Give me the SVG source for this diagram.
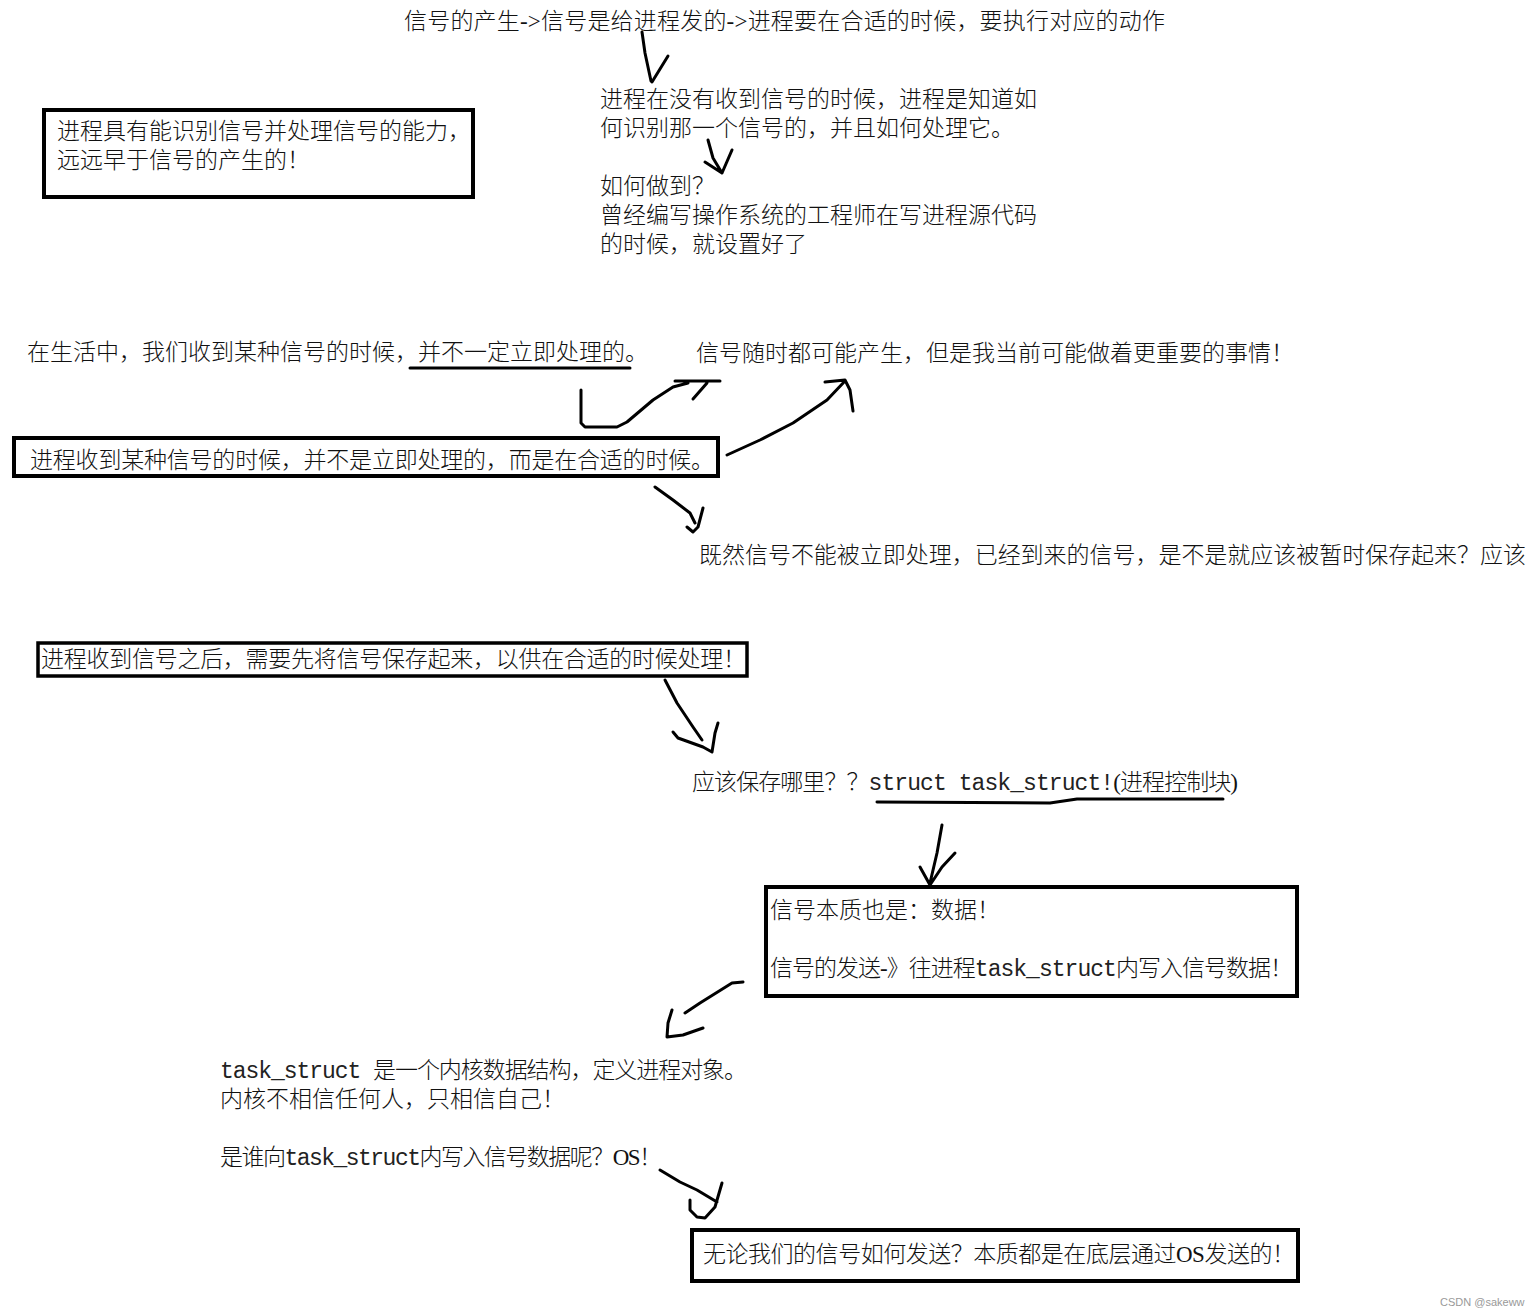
<svg xmlns="http://www.w3.org/2000/svg" width="1539" height="1316" viewBox="0 0 1539 1316">
<style>
  .t { font-family: "Liberation Serif", "Noto Sans CJK SC", serif; font-size: 23px; font-weight: 300; fill: #111; }
  .m { font-family: "Liberation Mono", "Noto Sans CJK SC", monospace; font-weight: 400; fill: #222; }
  .box { fill: none; stroke: #000; stroke-width: 4; }
  .pen { fill: none; stroke: #000; stroke-width: 3; stroke-linecap: round; stroke-linejoin: round; }
  .wm { font-family: "Liberation Sans", Arial, sans-serif; font-size: 11px; fill: #999; }
</style>
<rect width="1539" height="1316" fill="#fff"/>

<g id="n-top">
  <text class="t" x="404" y="29" textLength="761" lengthAdjust="spacing">信号的产生-&gt;信号是给进程发的-&gt;进程要在合适的时候，要执行对应的动作</text>
</g>
<g id="n-know">
  <text class="t" x="600" y="107">进程在没有收到信号的时候，进程是知道如<tspan x="600" dy="29">何识别那一个信号的，并且如何处理它。</tspan></text>
</g>
<g id="n-how">
  <text class="t" x="600" y="194">如何做到？<tspan x="600" dy="29">曾经编写操作系统的工程师在写进程源代码</tspan><tspan x="600" dy="29">的时候，就设置好了</tspan></text>
</g>
<g id="n-ability">
  <rect class="box" x="44" y="110" width="429" height="87"/>
  <text class="t" x="57" y="139">进程具有能识别信号并处理信号的能力，<tspan x="57" dy="29">远远早于信号的产生的！</tspan></text>
</g>
<g id="n-life">
  <text class="t" x="27" y="360">在生活中，我们收到某种信号的时候，并不一定立即处理的。</text>
</g>
<g id="n-anytime">
  <text class="t" x="696" y="361">信号随时都可能产生，但是我当前可能做着更重要的事情！</text>
</g>
<g id="n-notimmediate">
  <rect class="box" x="14" y="438" width="704" height="38"/>
  <text class="t" x="30" y="468" textLength="684" lengthAdjust="spacing">进程收到某种信号的时候，并不是立即处理的，而是在合适的时候。</text>
</g>
<g id="n-save-q">
  <text class="t" x="699" y="563" textLength="827" lengthAdjust="spacing">既然信号不能被立即处理，已经到来的信号，是不是就应该被暂时保存起来？应该</text>
</g>
<g id="n-save">
  <rect class="box" x="38" y="643" width="709" height="33" style="stroke-width:3.5"/>
  <text class="t" x="41" y="667" textLength="705" lengthAdjust="spacing">进程收到信号之后，需要先将信号保存起来，以供在合适的时候处理！</text>
</g>
<g id="n-where">
  <text class="t" x="692" y="790" textLength="546" lengthAdjust="spacing">应该保存哪里？？<tspan class="m">struct task_struct!</tspan>(进程控制块)</text>
</g>
<g id="n-data">
  <rect class="box" x="766" y="887" width="531" height="109"/>
  <text class="t" x="770" y="918">信号本质也是：数据！</text>
  <text class="t" x="770" y="976" textLength="523" lengthAdjust="spacing">信号的发送-》往进程<tspan class="m">task_struct</tspan>内写入信号数据！</text>
</g>
<g id="n-kernel">
  <text class="t" x="220" y="1078"><tspan textLength="527" lengthAdjust="spacing"><tspan class="m">task_struct </tspan>是一个内核数据结构，定义进程对象。</tspan><tspan x="220" dy="29">内核不相信任何人，只相信自己！</tspan><tspan x="220" dy="58" textLength="442" lengthAdjust="spacing">是谁向<tspan class="m">task_struct</tspan>内写入信号数据呢？OS！</tspan></text>
</g>
<g id="n-os">
  <rect class="box" x="692" y="1230" width="606" height="51"/>
  <text class="t" x="703" y="1262" textLength="592" lengthAdjust="spacing">无论我们的信号如何发送？本质都是在底层通过OS发送的！</text>
</g>

<g id="connectors">
  <path class="pen" d="M642,32 L645,53 L651,81 M668,56 L652,82"/>
  <path class="pen" d="M708,140 L713,158 L722,173 M705,162 L722,173 M732,150 L722,173"/>
  <path class="pen" d="M410,368 L630,368"/>
  <path class="pen" d="M581,390 L581,423 L585,427 L617,427 L627,422 L653,400 L673,387 L688,383 M675,381 L720,381 M693,399 L707,383"/>
  <path class="pen" d="M727,455 L760,440 L793,423 L827,400 L845,381 M825,382 L845,380 L850,390 L853,411"/>
  <path class="pen" d="M655,487 L673,500 L690,513 L695,523 M687,527 L693,532 L698,527 L703,508"/>
  <path class="pen" d="M665,680 L677,703 L693,727 L702,740 M673,732 L678,738 L703,747 L712,752 L715,733 L718,723"/>
  <path class="pen" d="M877,802 L1050,803 L1077,799 L1223,799"/>
  <path class="pen" d="M942,825 L937,853 L930,883 M920,867 L930,885 L942,867 L955,853"/>
  <path class="pen" d="M685,1013 L700,1003 L732,983 L743,982 M672,1010 L668,1023 L667,1037 L683,1035 L703,1028"/>
  <path class="pen" d="M660,1170 L680,1182 L697,1190 L717,1202 M690,1200 L690,1210 L697,1217 L705,1218 L715,1207 L722,1183"/>
</g>

<text class="wm" x="1440" y="1306">CSDN @sakeww</text>
</svg>
